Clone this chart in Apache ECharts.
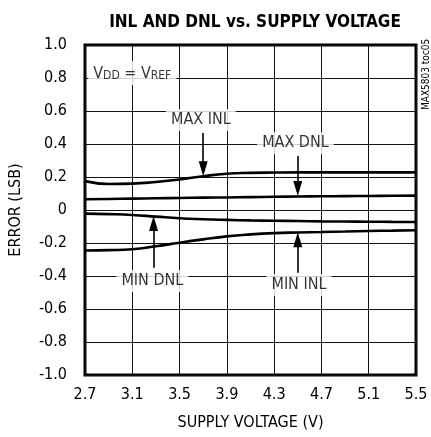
<!DOCTYPE html>
<html><head><meta charset="utf-8">
<script src="https://cdn.jsdelivr.net/npm/echarts@6/dist/echarts.min.js"></script>
<style>html,body{margin:0;padding:0;background:#fff}#c{width:431px;height:437px}</style>
</head><body><div id="c"></div>
<script>
// ---- data ----
const voltage = [2.7, 2.9, 3.1, 3.3, 3.5, 3.7, 3.9, 4.1, 4.3, 4.5, 4.7, 4.9, 5.1, 5.3, 5.5];
const maxInl = [0.175, 0.158, 0.16, 0.17, 0.185, 0.205, 0.22, 0.225, 0.227, 0.228, 0.228, 0.228, 0.228, 0.228, 0.228];
const maxDnl = [0.065, 0.067, 0.069, 0.071, 0.073, 0.075, 0.076, 0.078, 0.08, 0.082, 0.083, 0.084, 0.085, 0.086, 0.087];
const minDnl = [-0.022, -0.025, -0.03, -0.04, -0.05, -0.056, -0.06, -0.063, -0.065, -0.067, -0.069, -0.07, -0.071, -0.072, -0.073];
const minInl = [-0.245, -0.243, -0.238, -0.22, -0.198, -0.178, -0.16, -0.148, -0.14, -0.136, -0.133, -0.13, -0.127, -0.125, -0.123];
const xTicks = ['2.7', '3.1', '3.5', '3.9', '4.3', '4.7', '5.1', '5.5'];
const yTicks = ['-1.0', '-0.8', '-0.6', '-0.4', '-0.2', '0', '0.2', '0.4', '0.6', '0.8', '1.0'];
// annotation labels: [text, voltage, error]
const labels = [
  ['MAX INL', 3.68, 0.545],
  ['MAX DNL', 4.48, 0.405],
  ['MIN DNL', 3.27, -0.43],
  ['MIN INL', 4.51, -0.455]
];
// arrows: [voltage, fromError, toError]
const arrows = [
  [3.70, 0.467, 0.21],
  [4.50, 0.327, 0.09],
  [3.28, -0.35, -0.042],
  [4.50, -0.38, -0.14]
];
const X0 = 2.7;
const FONT = '"Liberation Sans Narrow", "DejaVu Sans Condensed", Arial, sans-serif';

const pairs = arr => voltage.map((v, i) => [v - X0, arr[i]]);
const line = (name, arr) => ({
  name, type: 'line', data: pairs(arr), smooth: true, showSymbol: false,
  lineStyle: { color: '#000', width: 2.6 }, z: 3
});
const HEAD = 0.04;
const arrowLines = arrows.map(a => {
  const dir = a[2] > a[1] ? -1 : 1;
  return [{ coord: [a[0] - X0, a[1]] }, { coord: [a[0] - X0, a[2] + dir * HEAD] }];
});

const chart = echarts.init(document.getElementById('c'));
chart.setOption({
  animation: false,
  backgroundColor: '#fff',
  title: {
    text: 'INL AND DNL vs. SUPPLY VOLTAGE', left: 250, top: 9, textAlign: 'center',
    textStyle: { fontFamily: FONT, fontWeight: 'bold', fontSize: 17, color: '#000' }
  },
  grid: { left: 85, right: 15, top: 45, bottom: 62, show: true, borderColor: '#000', borderWidth: 3, backgroundColor: 'transparent' },
  xAxis: {
    type: 'value', min: 0, max: 2.8, interval: 0.4,
    name: 'SUPPLY VOLTAGE (V)', nameLocation: 'middle', nameGap: 40,
    nameTextStyle: { fontFamily: FONT, fontSize: 16, color: '#000' },
    axisLine: { show: false }, axisTick: { show: false },
    axisLabel: { margin: 12, fontFamily: FONT, fontSize: 16, color: '#000',
      formatter: v => xTicks[Math.round(v / 0.4)] },
    splitLine: { show: true, lineStyle: { color: '#111', width: 1 } }
  },
  yAxis: {
    type: 'value', min: -1, max: 1, interval: 0.2,
    name: 'ERROR (LSB)', nameLocation: 'middle', nameGap: 61, nameRotate: 90,
    nameTextStyle: { fontFamily: FONT, fontSize: 16, color: '#000' },
    axisLine: { show: false }, axisTick: { show: false },
    axisLabel: { margin: 18, fontFamily: FONT, fontSize: 16, color: '#000',
      formatter: v => yTicks[Math.round((v + 1) / 0.2)] },
    splitLine: { show: true, lineStyle: { color: '#111', width: 1 } }
  },
  series: [
    line('MAX INL', maxInl),
    line('MAX DNL', maxDnl),
    line('MIN DNL', minDnl),
    line('MIN INL', minInl),
    {
      name: 'annotations', type: 'scatter', symbolSize: 0, z: 5,
      data: labels.map(l => ({ name: l[0], value: [l[1] - X0, l[2]] })),
      label: { show: true, position: 'inside', formatter: p => p.name,
        fontFamily: FONT, fontSize: 16, color: '#000', textBorderWidth: 0,
        backgroundColor: '#fff', padding: [3, 5] },
      markLine: {
        silent: true, symbol: ['none', 'triangle'], symbolSize: [9, 15],
        lineStyle: { color: '#000', width: 1.6, type: 'solid' },
        label: { show: false }, data: arrowLines
      }
    },
    {
      name: 'cond', type: 'scatter', symbolSize: 0, z: 5,
      data: [{ name: 'cond', value: [3.10 - X0, 0.83] }],
      label: { show: true, position: 'inside', backgroundColor: '#fff', padding: [3, 5],
        formatter: '{a|V}{b|DD}{a| = V}{b|REF}',
        rich: {
          a: { fontFamily: FONT, fontSize: 16, color: '#000', textBorderWidth: 0, verticalAlign: 'bottom', lineHeight: 18 },
          b: { fontFamily: FONT, fontSize: 12, color: '#000', textBorderWidth: 0, verticalAlign: 'bottom', lineHeight: 18 }
        }
      }
    }
  ],
  graphic: [{
    type: 'text', x: 421, y: 110, rotation: Math.PI / 2,
    style: { text: 'MAX5803 toc05', fontFamily: FONT, fontSize: 10, fill: '#000' }
  }]
});
</script></body></html>
